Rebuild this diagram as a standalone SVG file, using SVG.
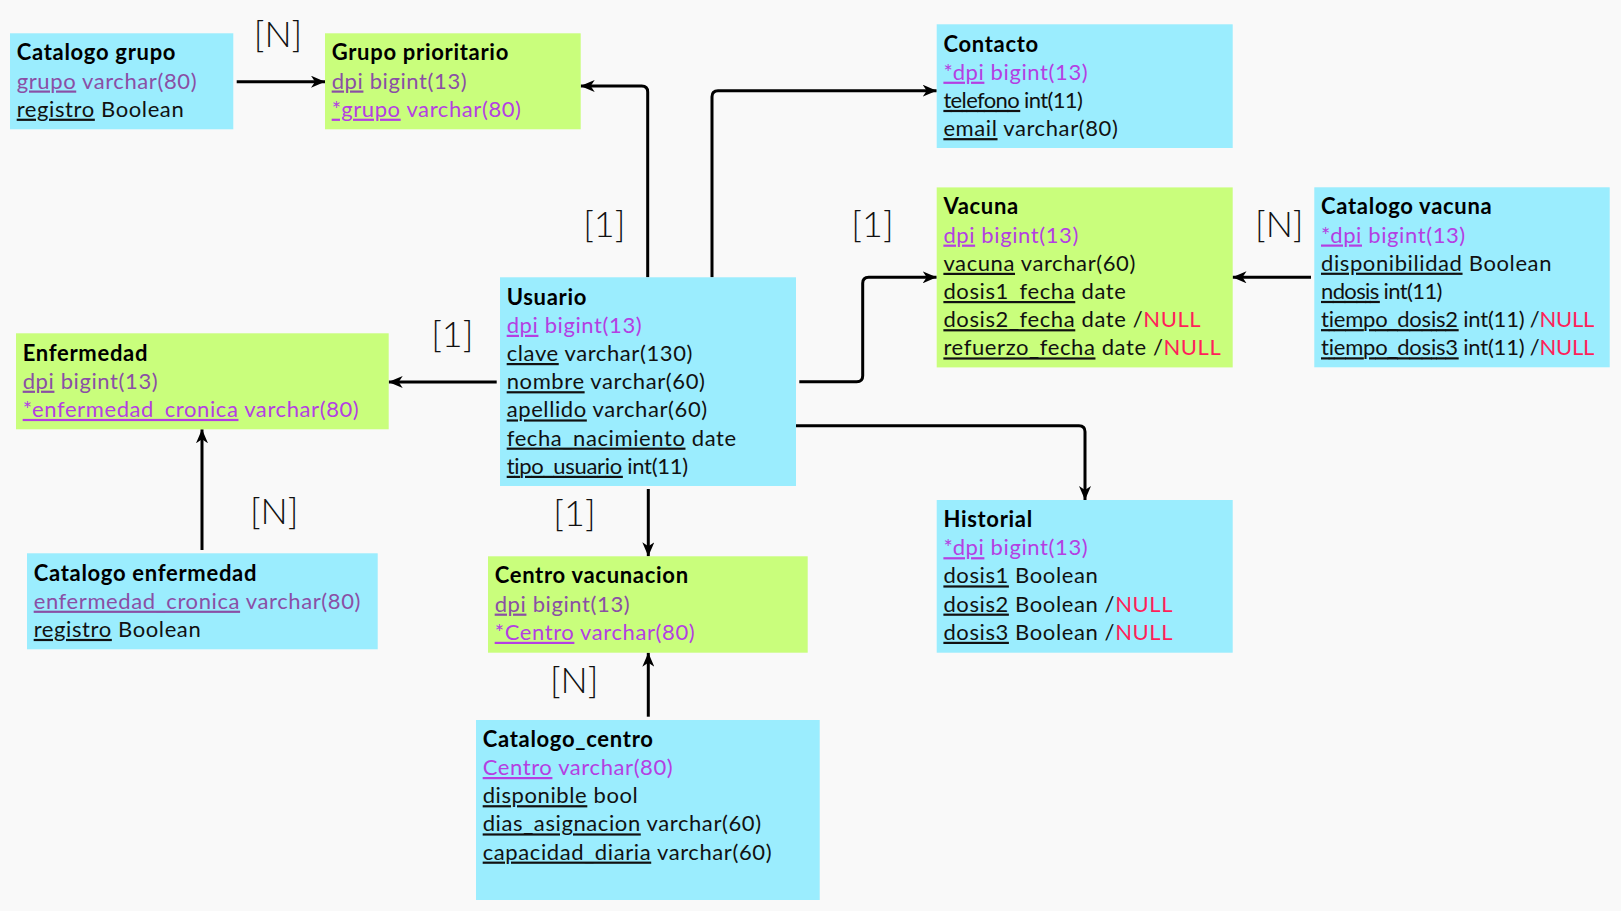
<svg xmlns="http://www.w3.org/2000/svg" width="1621" height="911" viewBox="0 0 1621 911">
<style>
text{font-family:Lato,"Open Sans","Liberation Sans",sans-serif;font-size:22px;fill:#111;letter-spacing:0.6px}
.h{font-weight:bold;fill:#000;letter-spacing:0.7px}
.u{text-decoration:underline}
.m{fill:#8a4fa5}
.p{fill:#b43fe2}
.n{fill:#ff1f5a}
.cy{fill:#9bedfe}
.gr{fill:#c9fe7c}
.lab{font-size:36px;font-weight:300;fill:#111;text-anchor:middle;letter-spacing:0}
.c{fill:none;stroke:#000;stroke-width:3;marker-end:url(#ah)}
</style>
<defs>
<marker id="ah" markerUnits="userSpaceOnUse" markerWidth="14" markerHeight="12" refX="14" refY="6" orient="auto">
<path d="M0,0 L14,6 L0,12 L4,6 Z" fill="#000"/>
</marker>
</defs>
<rect width="1621" height="911" fill="#f9f9f9"/>

<g id="connectors">
<path class="c" d="M236.7,81.7 H325"/>
<path class="c" d="M647.7,277.3 V92 Q647.7,86 641.7,86 H580.7"/>
<path class="c" d="M712,277.3 V96.7 Q712,90.7 718,90.7 H936.7"/>
<path class="c" d="M799.3,381.7 H856.7 Q862.7,381.7 862.7,375.7 V283.3 Q862.7,277.3 868.7,277.3 H936.7"/>
<path class="c" d="M1311,277.3 H1232.5"/>
<path class="c" d="M796,425.7 H1079 Q1085,425.7 1085,431.7 V500"/>
<path class="c" d="M496.7,382 H388.7"/>
<path class="c" d="M202,550 V429.3"/>
<path class="c" d="M648.3,489 V556.3"/>
<path class="c" d="M648.3,716.7 V652.7"/>
<text class="lab" x="278" y="47">[N]</text>
<text class="lab" x="604.3" y="236.5">[1]</text>
<text class="lab" x="872.5" y="236.5">[1]</text>
<text class="lab" x="1279.3" y="236.5">[N]</text>
<text class="lab" x="452.3" y="346.5">[1]</text>
<text class="lab" x="274.2" y="523.7">[N]</text>
<text class="lab" x="574.5" y="526.3">[1]</text>
<text class="lab" x="574.2" y="692.7">[N]</text>
</g>

<g id="catalogo-grupo">
<rect class="cy" x="10" y="33.3" width="223.3" height="96"/>
<text class="h" x="16.7" y="60.3">Catalogo grupo</text>
<text class="m" x="16.7" y="88.5"><tspan class="u">grupo</tspan> varchar(80)</text>
<text x="16.7" y="116.7"><tspan class="u">registro</tspan> Boolean</text>
</g>

<g id="grupo-prioritario">
<rect class="gr" x="325" y="33.3" width="255.7" height="96"/>
<text class="h" x="331.7" y="60.3">Grupo prioritario</text>
<text class="m" x="331.7" y="88.5"><tspan class="u">dpi</tspan> bigint(13)</text>
<text class="p" x="331.7" y="116.7"><tspan class="u">*grupo</tspan> varchar(80)</text>
</g>

<g id="contacto">
<rect class="cy" x="936.7" y="24.3" width="296" height="123.7"/>
<text class="h" x="943.4" y="51.5">Contacto</text>
<text class="p" x="943.4" y="79.7"><tspan class="u">*dpi</tspan> bigint(13)</text>
<text x="943.4" y="107.9" textLength="140" lengthAdjust="spacing"><tspan class="u">telefono</tspan> int(11)</text>
<text x="943.4" y="136.1"><tspan class="u">email</tspan> varchar(80)</text>
</g>

<g id="vacuna">
<rect class="gr" x="936.7" y="187.4" width="296" height="180"/>
<text class="h" x="943.4" y="214.4">Vacuna</text>
<text class="p" x="943.4" y="242.6"><tspan class="u">dpi</tspan> bigint(13)</text>
<text x="943.4" y="270.8"><tspan class="u">vacuna</tspan> varchar(60)</text>
<text x="943.4" y="299"><tspan class="u">dosis1_fecha</tspan> date</text>
<text x="943.4" y="327.2"><tspan class="u">dosis2_fecha</tspan> date /<tspan class="n">NULL</tspan></text>
<text x="943.4" y="355.4"><tspan class="u">refuerzo_fecha</tspan> date /<tspan class="n">NULL</tspan></text>
</g>

<g id="catalogo-vacuna">
<rect class="cy" x="1314.3" y="187.3" width="295.4" height="180"/>
<text class="h" x="1321" y="214.3">Catalogo vacuna</text>
<text class="p" x="1321" y="242.5"><tspan class="u">*dpi</tspan> bigint(13)</text>
<text x="1321" y="270.7"><tspan class="u">disponibilidad</tspan> Boolean</text>
<text x="1321" y="298.9" textLength="122" lengthAdjust="spacing"><tspan class="u">ndosis</tspan> int(11)</text>
<text x="1321" y="327.1" textLength="274" lengthAdjust="spacing"><tspan class="u">tiempo_dosis2</tspan> int(11) /<tspan class="n">NULL</tspan></text>
<text x="1321" y="355.3" textLength="274" lengthAdjust="spacing"><tspan class="u">tiempo_dosis3</tspan> int(11) /<tspan class="n">NULL</tspan></text>
</g>

<g id="usuario">
<rect class="cy" x="500" y="277.3" width="296" height="208.7"/>
<text class="h" x="506.7" y="304.6">Usuario</text>
<text class="p" x="506.7" y="332.8"><tspan class="u">dpi</tspan> bigint(13)</text>
<text x="506.7" y="361"><tspan class="u">clave</tspan> varchar(130)</text>
<text x="506.7" y="389.2"><tspan class="u">nombre</tspan> varchar(60)</text>
<text x="506.7" y="417.4"><tspan class="u">apellido</tspan> varchar(60)</text>
<text x="506.7" y="445.6"><tspan class="u">fecha_nacimiento</tspan> date</text>
<text x="506.7" y="473.8" textLength="182" lengthAdjust="spacing"><tspan class="u">tipo_usuario</tspan> int(11)</text>
</g>

<g id="enfermedad">
<rect class="gr" x="16" y="333.3" width="372.7" height="96"/>
<text class="h" x="22.7" y="360.5">Enfermedad</text>
<text class="m" x="22.7" y="388.7"><tspan class="u">dpi</tspan> bigint(13)</text>
<text class="p" x="22.7" y="416.9"><tspan class="u">*enfermedad_cronica</tspan> varchar(80)</text>
</g>

<g id="catalogo-enfermedad">
<rect class="cy" x="27" y="553.3" width="350.7" height="96"/>
<text class="h" x="33.7" y="580.5">Catalogo enfermedad</text>
<text class="m" x="33.7" y="608.7"><tspan class="u">enfermedad_cronica</tspan> varchar(80)</text>
<text x="33.7" y="636.9"><tspan class="u">registro</tspan> Boolean</text>
</g>

<g id="centro-vacunacion">
<rect class="gr" x="488" y="556.3" width="319.7" height="96.4"/>
<text class="h" x="494.7" y="583.4">Centro vacunacion</text>
<text class="m" x="494.7" y="611.6"><tspan class="u">dpi</tspan> bigint(13)</text>
<text class="p" x="494.7" y="639.8"><tspan class="u">*Centro</tspan> varchar(80)</text>
</g>

<g id="historial">
<rect class="cy" x="936.7" y="500" width="296" height="152.7"/>
<text class="h" x="943.4" y="527">Historial</text>
<text class="p" x="943.4" y="555.2"><tspan class="u">*dpi</tspan> bigint(13)</text>
<text x="943.4" y="583.4"><tspan class="u">dosis1</tspan> Boolean</text>
<text x="943.4" y="611.6"><tspan class="u">dosis2</tspan> Boolean /<tspan class="n">NULL</tspan></text>
<text x="943.4" y="639.8"><tspan class="u">dosis3</tspan> Boolean /<tspan class="n">NULL</tspan></text>
</g>

<g id="catalogo-centro">
<rect class="cy" x="476" y="720" width="343.7" height="180"/>
<text class="h" x="482.7" y="746.8">Catalogo_centro</text>
<text class="p" x="482.7" y="775"><tspan class="u">Centro</tspan> varchar(80)</text>
<text x="482.7" y="803.2"><tspan class="u">disponible</tspan> bool</text>
<text x="482.7" y="831.4"><tspan class="u">dias_asignacion</tspan> varchar(60)</text>
<text x="482.7" y="859.6"><tspan class="u">capacidad_diaria</tspan> varchar(60)</text>
</g>
</svg>
